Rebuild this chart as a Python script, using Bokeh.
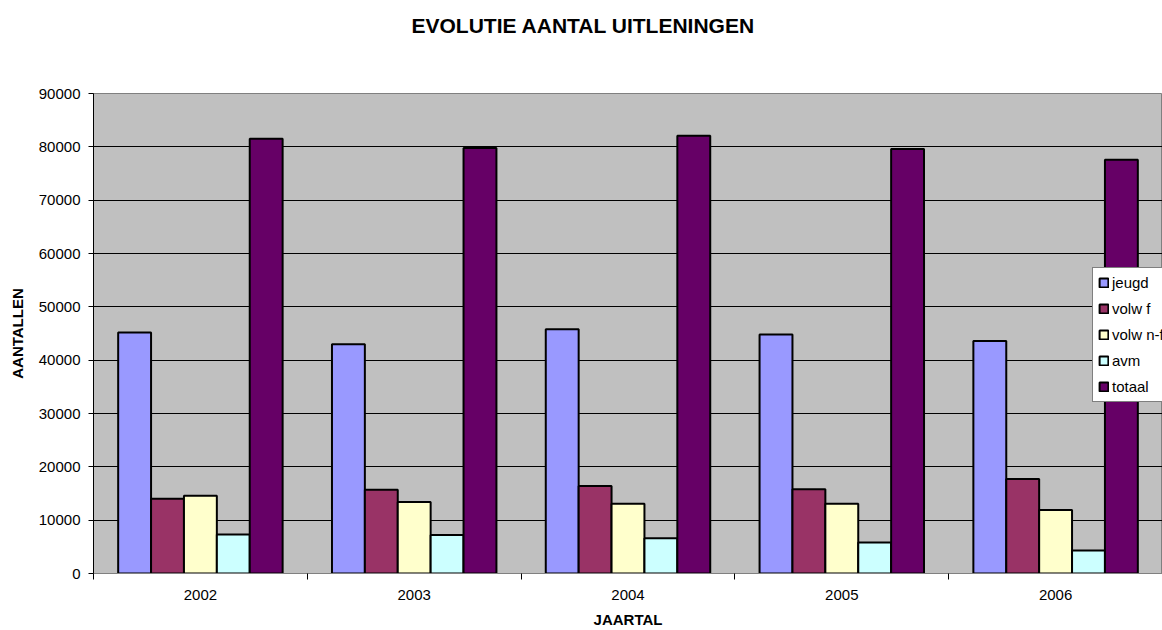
from bokeh.plotting import figure
from bokeh.models import FixedTicker, NumeralTickFormatter, Range1d, Legend, LegendItem, Title
from bokeh.embed import file_html
from bokeh.resources import INLINE

years = ["2002", "2003", "2004", "2005", "2006"]
series_names = ["jeugd", "volw f", "volw n-f", "avm", "totaal"]
jeugd = [45200, 43000, 45800, 44800, 43600]
volw_f = [14000, 15700, 16400, 15800, 17700]
volw_nf = [14600, 13400, 13100, 13100, 11900]
avm = [7300, 7200, 6600, 5800, 4300]
totaal = [81500, 79800, 82100, 79600, 77600]
colors = ["#9999FF", "#993366", "#FFFFCC", "#CCFFFF", "#660066"]
y_ticks = [0, 10000, 20000, 30000, 40000, 50000, 60000, 70000, 80000, 90000]

FONT = "Liberation Sans"

p = figure(width=1162, height=630, output_backend="svg", toolbar_location=None,
           title_location=None,
           x_range=Range1d(0, len(years)), y_range=Range1d(0, 90000),
           min_border_left=93, min_border_right=0, min_border_top=93, min_border_bottom=57)

# spacer between title and plot area (added first -> closest to the frame)
spacer = Title(text=" ", text_font_size="1px", standoff=47)
p.add_layout(spacer, "above")
title = Title(text="EVOLUTIE AANTAL UITLENINGEN", align="left", offset=318, standoff=14,
              text_font=FONT, text_font_size="21px", text_font_style="bold",
              text_color="#000000")
p.add_layout(title, "above")

p.background_fill_color = "#C0C0C0"
p.border_fill_color = "#FFFFFF"
p.outline_line_color = "#808080"
p.outline_line_width = 1

all_series = [jeugd, volw_f, volw_nf, avm, totaal]
bw = 1.0 / 6.5
items = []
for j, (name, vals, col) in enumerate(zip(series_names, all_series, colors)):
    xs = [i + 0.5 + (j - 2) * bw for i in range(len(years))]
    r = p.vbar(x=xs, top=vals, width=bw, bottom=0, fill_color=col,
               line_color="#000000", line_width=2)
    items.append(LegendItem(label=name, renderers=[r]))

legend = Legend(items=items, location=(999, 171))
legend.label_text_font = FONT
legend.label_text_font_size = "15px"
legend.label_text_color = "#000000"
legend.glyph_width = 11
legend.glyph_height = 11
legend.label_height = 19
legend.label_standoff = 3
legend.spacing = 7
legend.padding = 5
legend.margin = 0
legend.border_line_color = "#000000"
legend.border_line_width = 1
legend.background_fill_color = "#FFFFFF"
legend.background_fill_alpha = 1.0
p.add_layout(legend)

# x axis
xa = p.xaxis[0]
xa.ticker = FixedTicker(ticks=[i + 0.5 for i in range(len(years))],
                        minor_ticks=list(range(len(years) + 1)))
xa.major_label_overrides = {i + 0.5: y for i, y in enumerate(years)}
xa.major_tick_line_color = None
xa.major_tick_out = 0
xa.major_tick_in = 0
xa.minor_tick_line_color = "#000000"
xa.minor_tick_out = 6
xa.minor_tick_in = 0
xa.axis_line_color = "#808080"
xa.major_label_text_font = FONT
xa.major_label_text_font_size = "15px"
xa.major_label_text_color = "#000000"
xa.major_label_standoff = 10
xa.axis_label = "JAARTAL"
xa.axis_label_text_font = FONT
xa.axis_label_text_font_size = "15px"
xa.axis_label_text_font_style = "bold"
xa.axis_label_text_color = "#000000"
xa.axis_label_standoff = 8

# y axis
ya = p.yaxis[0]
ya.ticker = FixedTicker(ticks=y_ticks, minor_ticks=[])
ya.formatter = NumeralTickFormatter(format="0")
ya.major_tick_out = 5
ya.major_tick_in = 0
ya.major_tick_line_color = "#000000"
ya.minor_tick_line_color = None
ya.axis_line_color = "#000000"
ya.major_label_text_font = FONT
ya.major_label_text_font_size = "15px"
ya.major_label_text_color = "#000000"
ya.major_label_standoff = 8
ya.axis_label = "AANTALLEN"
ya.axis_label_text_font = FONT
ya.axis_label_text_font_size = "15px"
ya.axis_label_text_font_style = "bold"
ya.axis_label_text_color = "#000000"
ya.axis_label_standoff = 10

p.xgrid.grid_line_color = None
p.ygrid.ticker = FixedTicker(ticks=y_ticks)
p.ygrid.grid_line_color = "#000000"
p.ygrid.grid_line_width = 1

open("out.html", "w").write(file_html(p, INLINE))
